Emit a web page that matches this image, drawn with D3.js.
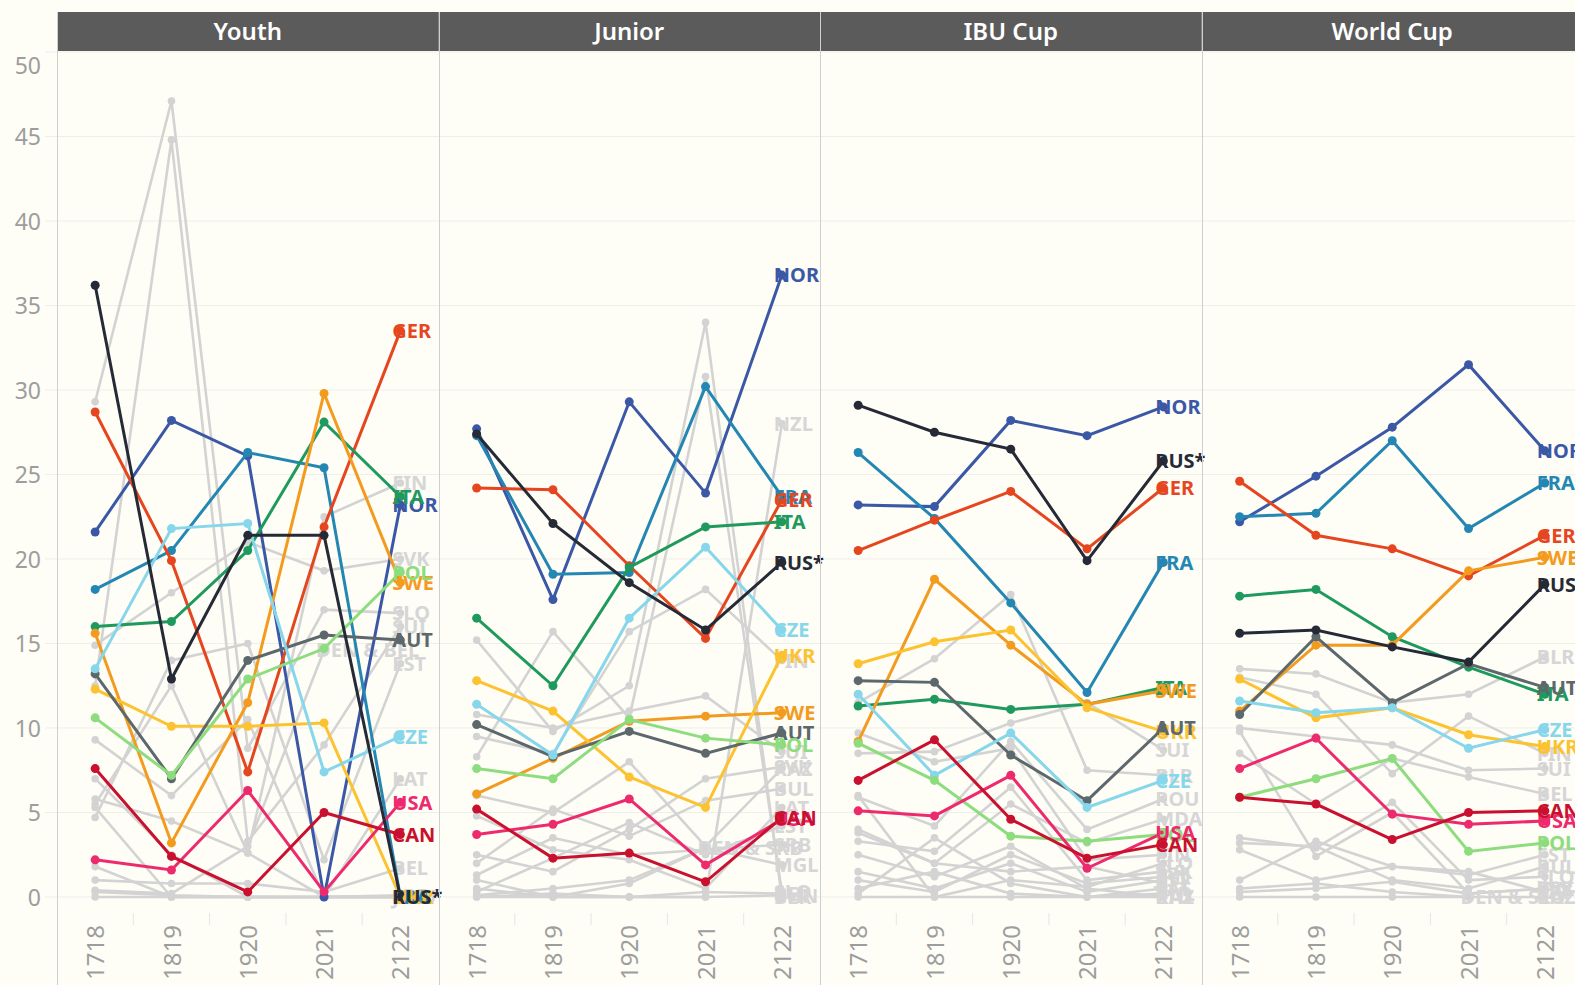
<!DOCTYPE html>
<html>
<head>
  <meta charset="utf-8">
  <title>Nation points by season and competition</title>
  <script src="https://cdn.jsdelivr.net/npm/d3@7"></script>
  <style>
    body { margin: 0; background: #fefdf6; overflow: hidden; }
    svg { display: block; font-family: "Noto Sans", sans-serif; }
    .grid-line { stroke: #efefea; stroke-width: 1; }
    .frame-line { stroke: #cfcfcf; stroke-width: 1; }
    .y-axis text { fill: #9d9d9d; font-size: 23px; }
    .x-axis text { fill: #9d9d9d; font-size: 24px; }
    .label { font-weight: 700; font-size: 20px; }
  </style>
</head>
<body>
  <svg id="chart" width="1575" height="985"></svg>

  <script>
    // Seasons on the x axis, one panel per competition
    const seasons = ['1718', '1819', '1920', '2021', '2122'];
    const competitions = ['Youth', 'Junior', 'IBU Cup', 'World Cup'];
    const yTicks = [0, 5, 10, 15, 20, 25, 30, 35, 40, 45, 50];

    // Highlighted nations (coloured)
    const youthNations = {
      'NOR': [21.6, 28.2, 26.1, 0.0, 23.2],
      'FRA': [18.2, 20.5, 26.3, 25.4, 0.0],
      'GER': [28.7, 19.9, 7.4, 21.9, 33.5],
      'ITA': [16.0, 16.3, 20.5, 28.1, 23.7],
      'SWE': [15.6, 3.2, 11.5, 29.8, 18.6],
      'UKR': [12.3, 10.1, 10.1, 10.3, 0.0],
      'AUT': [13.2, 7.0, 14.0, 15.5, 15.2],
      'CZE': [13.5, 21.8, 22.1, 7.4, 9.5],
      'POL': [10.6, 7.2, 12.9, 14.7, 19.2],
      'USA': [2.2, 1.6, 6.3, 0.3, 5.6],
      'CAN': [7.6, 2.4, 0.3, 5.0, 3.7],
      'RUS*': [36.2, 12.9, 21.4, 21.4, 0.0]
    };
    const juniorNations = {
      'NOR': [27.7, 17.6, 29.3, 23.9, 36.8],
      'FRA': [27.3, 19.1, 19.2, 30.2, 23.7],
      'GER': [24.2, 24.1, 19.6, 15.3, 23.5],
      'ITA': [16.5, 12.5, 19.5, 21.9, 22.2],
      'SWE': [6.1, 8.2, 10.4, 10.7, 10.9],
      'UKR': [12.8, 11.0, 7.1, 5.3, 14.3],
      'AUT': [10.2, 8.3, 9.8, 8.5, 9.7],
      'CZE': [11.4, 8.4, 16.5, 20.7, 15.8],
      'POL': [7.6, 7.0, 10.5, 9.4, 9.0],
      'USA': [3.7, 4.3, 5.8, 1.9, 4.6],
      'CAN': [5.2, 2.3, 2.6, 0.9, 4.7],
      'RUS*': [27.4, 22.1, 18.6, 15.8, 19.8]
    };
    const ibuNations = {
      'NOR': [23.2, 23.1, 28.2, 27.3, 29.0],
      'FRA': [26.3, 22.4, 17.4, 12.1, 19.8],
      'GER': [20.5, 22.3, 24.0, 20.6, 24.2],
      'ITA': [11.3, 11.7, 11.1, 11.4, 12.4],
      'SWE': [9.2, 18.8, 14.9, 11.4, 12.2],
      'UKR': [13.8, 15.1, 15.8, 11.2, 9.8],
      'AUT': [12.8, 12.7, 8.4, 5.7, 10.0],
      'CZE': [12.0, 7.2, 9.7, 5.3, 6.9],
      'POL': [9.1, 6.9, 3.6, 3.3, 3.7],
      'USA': [5.1, 4.8, 7.2, 1.7, 3.8],
      'CAN': [6.9, 9.3, 4.6, 2.3, 3.1],
      'RUS*': [29.1, 27.5, 26.5, 19.9, 25.8]
    };
    const worldCupNations = {
      'NOR': [22.2, 24.9, 27.8, 31.5, 26.4],
      'FRA': [22.5, 22.7, 27.0, 21.8, 24.5],
      'GER': [24.6, 21.4, 20.6, 19.0, 21.4],
      'ITA': [17.8, 18.2, 15.4, 13.6, 12.0],
      'SWE': [11.0, 14.9, 14.9, 19.3, 20.1],
      'UKR': [12.9, 10.6, 11.2, 9.6, 8.9],
      'AUT': [10.8, 15.4, 11.5, 13.8, 12.4],
      'CZE': [11.6, 10.9, 11.2, 8.8, 9.9],
      'POL': [5.9, 7.0, 8.2, 2.7, 3.2],
      'USA': [7.6, 9.4, 4.9, 4.3, 4.5],
      'CAN': [5.9, 5.5, 3.4, 5.0, 5.1],
      'RUS*': [15.6, 15.8, 14.8, 13.9, 18.5]
    };

    // Other nations (grey)
    const youthOthers = {
      'SLO': [29.3, 47.1, 8.8, 17.0, 16.8],
      'SUI': [12.5, 44.8, 3.3, 9.0, 16.0],
      'FIN': [5.5, 12.5, 2.6, 22.5, 24.5],
      'SVK': [14.9, 18.0, 21.0, 19.3, 20.0],
      'EST': [4.7, 14.0, 15.0, 2.2, 13.8],
      'LAT': [9.3, 6.0, 10.5, 0.0, 7.0],
      'BEL': [1.0, 0.8, 0.8, 0.3, 1.7],
      'DEN & BEL': [0.4, 0.2, 3.0, 14.6],
      'KAZ': [7.0, 2.5, 0.0, 0.0, 0.0],
      'LTU': [5.8, 4.5, 2.6, 0.0, 0.0],
      'SRB': [5.3, 0.0, 0.0, 0.0, 0.1],
      'BUL': [1.8, 0.0, 0.0, 0.0, 0.0],
      'ROU': [0.0, 0.0, 0.0, 0.0, 0.0],
      'JPN': [0.3, 0.1, 0.0, 0.0, 0.0]
    };
    const juniorOthers = {
      'NZL': [1.0, 0.0, 0.0, 0.0, 28.0],
      'BLR': [15.2, 9.8, 12.5, 34.0, 0.0],
      'SLO': [8.3, 15.7, 10.6, 30.8, 0.3],
      'FIN': [9.5, 8.5, 15.7, 18.2, 14.0],
      'SUI': [10.8, 10.0, 11.0, 11.9, 8.6],
      'SVK': [2.5, 1.5, 4.0, 7.0, 7.7],
      'KAZ': [6.0, 5.0, 8.0, 3.0, 7.6],
      'BUL': [2.0, 5.2, 3.6, 5.7, 6.4],
      'LAT': [4.8, 2.8, 2.2, 0.5, 5.3],
      'EST': [0.3, 2.3, 4.4, 2.5, 4.2],
      'SRB': [1.3, 3.5, 2.5, 2.8, 3.1],
      'MGL': [0.5, 0.0, 0.8, 2.9, 1.9],
      'DEN & SRB': [0.1, 0.5, 1.0, 2.9],
      'CHN': [0.0, 0.0, 0.0, 0.0, 0.1],
      'BEL': [0.0, 0.2, 0.0, 0.3, 0.2]
    };
    const ibuOthers = {
      'BLR': [11.5, 14.1, 17.9, 7.5, 7.2],
      'SUI': [8.5, 8.6, 10.3, 11.5, 8.7],
      'ROU': [5.9, 4.2, 9.2, 4.0, 5.8],
      'MDA': [4.0, 2.0, 5.5, 3.2, 4.6],
      'FIN': [9.7, 8.0, 8.8, 2.2, 2.5],
      'SVK': [3.3, 2.7, 6.5, 1.0, 1.5],
      'SLO': [6.0, 0.0, 1.0, 0.6, 2.0],
      'EST': [1.5, 0.5, 2.0, 0.3, 1.0],
      'LAT': [0.5, 1.5, 0.2, 0.0, 0.5],
      'KAZ': [2.5, 1.2, 3.0, 0.5, 0.0],
      'BUL': [0.2, 3.5, 0.8, 0.0, 0.2],
      'BEL': [3.8, 2.0, 1.5, 1.8, 0.8],
      'LTU': [0.0, 0.0, 0.0, 0.0, 0.0],
      'JPN': [1.0, 0.3, 2.5, 0.8, 1.2]
    };
    const worldCupOthers = {
      'BLR': [13.5, 13.2, 11.5, 12.0, 14.2],
      'FIN': [13.0, 12.0, 7.3, 10.7, 8.5],
      'SUI': [10.0, 9.5, 9.0, 7.5, 7.6],
      'BEL': [8.5, 5.5, 8.2, 7.1, 6.1],
      'SVK': [9.8, 2.4, 5.0, 0.2, 0.5],
      'SLO': [3.5, 2.9, 5.6, 1.0, 1.2],
      'EST': [2.8, 1.0, 1.8, 1.3, 2.5],
      'LAT': [1.0, 3.3, 1.8, 1.5, 0.3],
      'KAZ': [0.0, 0.0, 0.0, 0.0, 0.0],
      'BUL': [3.2, 3.0, 1.0, 0.5, 1.8],
      'JPN': [0.3, 0.5, 0.9, 0.2, 0.5],
      'DEN & SLO': [0.5, 0.8, 0.3, 0.0]
    };

    const nationColors = {
      'NOR': '#3b58a6', 'FRA': '#2487b3', 'GER': '#e6461f', 'RUS*': '#252a36',
      'ITA': '#1f9a5e', 'SWE': '#f39b1e', 'UKR': '#fcc230', 'AUT': '#5d686c',
      'CZE': '#86d6ec', 'POL': '#8ddc7e', 'USA': '#ee2a6e', 'CAN': '#c9102f'
    };
    const greyColor = '#d3d3d3';

    const panels = [
      { name: competitions[0], nations: youthNations, others: youthOthers },
      { name: competitions[1], nations: juniorNations, others: juniorOthers },
      { name: competitions[2], nations: ibuNations, others: ibuOthers },
      { name: competitions[3], nations: worldCupNations, others: worldCupOthers }
    ];

    // Layout
    const left = 57, panelWidth = 381.5;
    const headerTop = 12, headerBottom = 51;
    const svg = d3.select('#chart');

    const y = d3.scaleLinear().domain([0, 50]).range([897, 52]);

    // horizontal grid
    svg.append('g')
      .selectAll('line')
      .data(yTicks)
      .enter()
      .append('line')
      .attr('class', 'grid-line')
      .attr('x1', 45)
      .attr('x2', 1575)
      .attr('y1', d => y(d))
      .attr('y2', d => y(d));

    // y axis
    const yAxis = svg.append('g')
      .attr('class', 'y-axis')
      .attr('transform', 'translate(45,0)')
      .call(d3.axisLeft(y).tickValues(yTicks).tickSize(0).tickPadding(4));
    yAxis.select('.domain').remove();
    yAxis.selectAll('text')
      .style('font-family', '"Noto Sans", sans-serif')
      .attr('dy', d => d === 50 ? '0.95em' : '0.35em');

    const line = d3.line()
      .x(d => d.x)
      .y(d => d.y);

    panels.forEach((panel, i) => {
      const x0 = left + i * panelWidth;
      const x = d3.scalePoint()
        .domain(seasons)
        .range([x0, x0 + panelWidth])
        .padding(0.5);

      const g = svg.append('g').attr('class', 'panel');

      // header
      g.append('rect')
        .attr('x', x0)
        .attr('y', headerTop)
        .attr('width', panelWidth)
        .attr('height', headerBottom - headerTop)
        .attr('fill', '#5b5b5b');
      g.append('text')
        .attr('x', x0 + panelWidth / 2)
        .attr('y', (headerTop + headerBottom) / 2)
        .attr('dy', '0.36em')
        .attr('text-anchor', 'middle')
        .attr('fill', '#ffffff')
        .style('font-size', '24px')
        .style('font-weight', 600)
        .text(panel.name);

      // x axis (rotated season labels)
      const xAxis = g.append('g')
        .attr('class', 'x-axis')
        .attr('transform', 'translate(0,925)')
        .call(d3.axisBottom(x).tickSize(0).tickPadding(0));
      xAxis.select('.domain').remove();
      xAxis.selectAll('text')
        .style('font-family', '"Noto Sans", sans-serif')
        .attr('x', 0)
        .attr('y', 0)
        .attr('dy', '0.36em')
        .attr('text-anchor', 'end')
        .attr('transform', 'rotate(-90)');

      // small separators between seasons
      g.selectAll('.season-sep')
        .data(seasons.slice(0, -1))
        .enter()
        .append('line')
        .attr('x1', d => x(d) + x.step() / 2)
        .attr('x2', d => x(d) + x.step() / 2)
        .attr('y1', 913)
        .attr('y2', 925)
        .attr('stroke', '#e6e6e2');

      const toPoints = vals => vals.map((v, k) => ({ x: x(seasons[k]), y: y(v) }));

      // grey nations
      const others = Object.entries(panel.others);
      others.forEach(([name, vals]) => {
        const pts = toPoints(vals);
        g.append('path')
          .attr('d', line(pts))
          .attr('fill', 'none')
          .attr('stroke', greyColor)
          .attr('stroke-width', 2.6);
        g.selectAll(null)
          .data(pts)
          .enter()
          .append('circle')
          .attr('cx', d => d.x)
          .attr('cy', d => d.y)
          .attr('r', 3.8)
          .attr('fill', greyColor);
      });
      others.forEach(([name, vals]) => {
        const last = toPoints(vals).slice(-1)[0];
        g.append('text')
          .attr('class', 'label')
          .attr('x', last.x - 8)
          .attr('y', last.y)
          .attr('dy', '0.36em')
          .attr('fill', '#d6d6d6')
          .text(name);
      });

      // coloured nations
      const nations = Object.entries(panel.nations);
      nations.forEach(([name, vals]) => {
        const pts = toPoints(vals);
        g.append('path')
          .attr('d', line(pts))
          .attr('fill', 'none')
          .attr('stroke', nationColors[name])
          .attr('stroke-width', 3);
        g.selectAll(null)
          .data(pts)
          .enter()
          .append('circle')
          .attr('cx', d => d.x)
          .attr('cy', d => d.y)
          .attr('r', 4.5)
          .attr('fill', nationColors[name]);
      });
      nations.forEach(([name, vals]) => {
        const last = toPoints(vals).slice(-1)[0];
        g.append('text')
          .attr('class', 'label')
          .attr('x', last.x - 8)
          .attr('y', last.y)
          .attr('dy', '0.36em')
          .attr('fill', nationColors[name])
          .text(name);
      });
    });

    // panel borders
    svg.selectAll('.frame-line')
      .data(d3.range(competitions.length))
      .enter()
      .append('line')
      .attr('class', 'frame-line')
      .attr('x1', d => Math.round(left + d * panelWidth) + 0.5)
      .attr('x2', d => Math.round(left + d * panelWidth) + 0.5)
      .attr('y1', headerTop)
      .attr('y2', 985);
  </script>
</body>
</html>
